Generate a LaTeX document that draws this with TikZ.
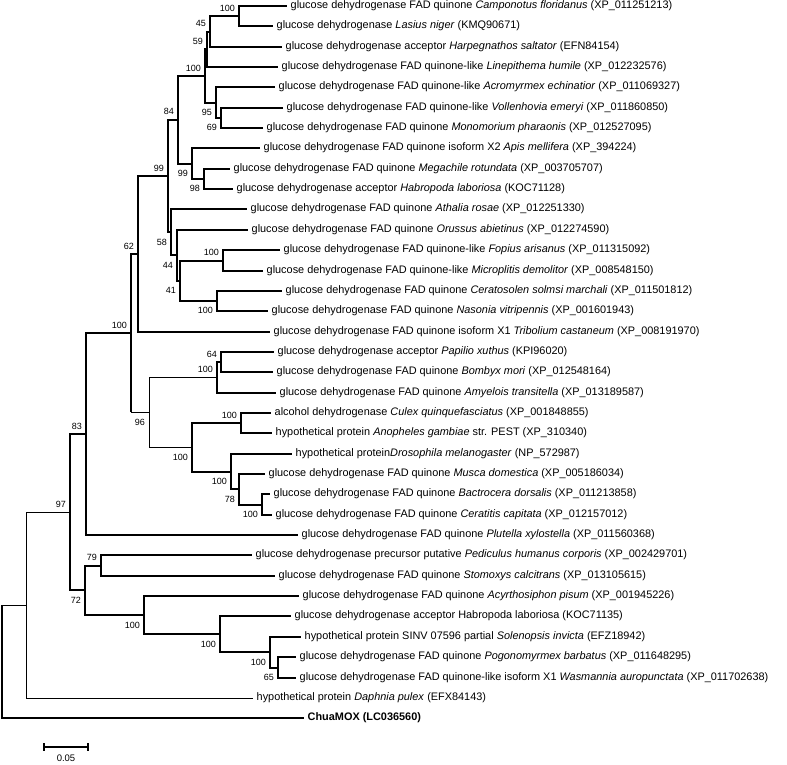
\documentclass[tikz,border=0pt]{standalone}
\usepackage{fontspec}
\setmainfont{Liberation Sans}
\usetikzlibrary{calc}
\begin{document}
\begin{tikzpicture}[x=1pt,y=-1pt,
  br/.style={line width=2pt},
  thinbr/.style={line width=1pt},
  leaf/.style={anchor=west,inner xsep=3.5pt,inner ysep=0pt,text height=7.8pt,text depth=2.2pt,font=\fontsize{10.9}{12}\selectfont},
  bsa/.style={anchor=south east,inner sep=0pt,font=\fontsize{9}{10}\selectfont},
  bsb/.style={anchor=north east,inner sep=0pt,font=\fontsize{9}{10}\selectfont},
  sbar/.style={line width=1.5pt}]
\useasboundingbox (0,0) rectangle (787,764);
% leaves
\node[leaf] (l1) at (287,6) {glucose dehydrogenase FAD quinone \textit{Camponotus floridanus} (XP\_011251213)};
\node[leaf] (l2) at (273,26) {glucose dehydrogenase \textit{Lasius niger} (KMQ90671)};
\node[leaf] (l3) at (282,47) {glucose dehydrogenase acceptor \textit{Harpegnathos saltator} (EFN84154)};
\node[leaf] (l4) at (278,67) {glucose dehydrogenase FAD quinone-like \textit{Linepithema humile} (XP\_012232576)};
\node[leaf] (l5) at (275,87) {glucose dehydrogenase FAD quinone-like \textit{Acromyrmex echinatior} (XP\_011069327)};
\node[leaf] (l6) at (283,108) {glucose dehydrogenase FAD quinone-like \textit{Vollenhovia emeryi} (XP\_011860850)};
\node[leaf] (l7) at (263,128) {glucose dehydrogenase FAD quinone \textit{Monomorium pharaonis} (XP\_012527095)};
\node[leaf] (l8) at (260,148) {glucose dehydrogenase FAD quinone isoform X2 \textit{Apis mellifera} (XP\_394224)};
\node[leaf] (l9) at (230,169) {glucose dehydrogenase FAD quinone \textit{Megachile rotundata} (XP\_003705707)};
\node[leaf] (l10) at (233,189) {glucose dehydrogenase acceptor \textit{Habropoda laboriosa} (KOC71128)};
\node[leaf] (l11) at (247,209) {glucose dehydrogenase FAD quinone \textit{Athalia rosae} (XP\_012251330)};
\node[leaf] (l12) at (248,230) {glucose dehydrogenase FAD quinone \textit{Orussus abietinus} (XP\_012274590)};
\node[leaf] (l13) at (280,250) {glucose dehydrogenase FAD quinone-like \textit{Fopius arisanus} (XP\_011315092)};
\node[leaf] (l14) at (263,271) {glucose dehydrogenase FAD quinone-like \textit{Microplitis demolitor} (XP\_008548150)};
\node[leaf] (l15) at (282,291) {glucose dehydrogenase FAD quinone \textit{Ceratosolen solmsi marchali} (XP\_011501812)};
\node[leaf] (l16) at (268,311) {glucose dehydrogenase FAD quinone \textit{Nasonia vitripennis} (XP\_001601943)};
\node[leaf] (l17) at (270,332) {glucose dehydrogenase FAD quinone isoform X1 \textit{Tribolium castaneum} (XP\_008191970)};
\node[leaf] (l18) at (274,352) {glucose dehydrogenase acceptor \textit{Papilio xuthus} (KPI96020)};
\node[leaf] (l19) at (273,372) {glucose dehydrogenase FAD quinone \textit{Bombyx mori} (XP\_012548164)};
\node[leaf] (l20) at (276,393) {glucose dehydrogenase FAD quinone \textit{Amyelois transitella} (XP\_013189587)};
\node[leaf] (l21) at (271,413) {alcohol dehydrogenase \textit{Culex quinquefasciatus} (XP\_001848855)};
\node[leaf] (l22) at (272,433) {hypothetical protein \textit{Anopheles gambiae} str. PEST (XP\_310340)};
\node[leaf] (l23) at (292,454) {hypothetical protein\textit{Drosophila melanogaster} (NP\_572987)};
\node[leaf] (l24) at (265,474) {glucose dehydrogenase FAD quinone \textit{Musca domestica} (XP\_005186034)};
\node[leaf] (l25) at (270,494) {glucose dehydrogenase FAD quinone \textit{Bactrocera dorsalis} (XP\_011213858)};
\node[leaf] (l26) at (272,515) {glucose dehydrogenase FAD quinone \textit{Ceratitis capitata} (XP\_012157012)};
\node[leaf] (l27) at (298,535) {glucose dehydrogenase FAD quinone \textit{Plutella xylostella} (XP\_011560368)};
\node[leaf] (l28) at (252,555) {glucose dehydrogenase precursor putative \textit{Pediculus humanus corporis} (XP\_002429701)};
\node[leaf] (l29) at (275,576) {glucose dehydrogenase FAD quinone \textit{Stomoxys calcitrans} (XP\_013105615)};
\node[leaf] (l30) at (299,596) {glucose dehydrogenase FAD quinone \textit{Acyrthosiphon pisum} (XP\_001945226)};
\node[leaf] (l31) at (291,616) {glucose dehydrogenase acceptor Habropoda laboriosa (KOC71135)};
\node[leaf] (l32) at (301,637) {hypothetical protein SINV 07596 partial \textit{Solenopsis invicta} (EFZ18942)};
\node[leaf] (l33) at (296,657) {glucose dehydrogenase FAD quinone \textit{Pogonomyrmex barbatus} (XP\_011648295)};
\node[leaf] (l34) at (296,678) {glucose dehydrogenase FAD quinone-like isoform X1 \textit{Wasmannia auropunctata} (XP\_011702638)};
\node[leaf] (l35) at (253,698) {hypothetical protein \textit{Daphnia pulex} (EFX84143)};
\node[leaf,font=\fontsize{10.9}{12}\selectfont\bfseries] (l36) at (304,718) {ChuaMOX (LC036560)};
% internal nodes
\coordinate (nA) at (239,16);
\coordinate (n45) at (210,31.5);
\coordinate (n59) at (207,49.25);
\coordinate (n69) at (221,118);
\coordinate (n95) at (216,102.5);
\coordinate (nAnts) at (205,75.9);
\coordinate (n98) at (204,179);
\coordinate (n99b) at (192,163.5);
\coordinate (n84) at (178,119.7);
\coordinate (nFM) at (223,260.5);
\coordinate (nCN) at (217,301);
\coordinate (n41) at (180,280.75);
\coordinate (n44) at (177,255.4);
\coordinate (n58) at (171,232.2);
\coordinate (n99a) at (168,176);
\coordinate (n62) at (138,254);
\coordinate (n64) at (221,362);
\coordinate (nPap) at (217,377.5);
\coordinate (nCA) at (241,423);
\coordinate (nBC) at (262,504.5);
\coordinate (n78) at (239,489.25);
\coordinate (nDro) at (231,471.6);
\coordinate (nDip) at (192,447.3);
\coordinate (n96) at (149,412.4);
\coordinate (nBig) at (131,333.2);
\coordinate (n83) at (86,434.1);
\coordinate (n79) at (101,565.5);
\coordinate (n65) at (278,667.5);
\coordinate (nSol) at (270,652.25);
\coordinate (nHab) at (220,634.1);
\coordinate (nAcy) at (144,615.05);
\coordinate (n72) at (85,590.3);
\coordinate (n97) at (70,512.2);
\coordinate (nD) at (26,605.1);
\coordinate (root) at (2,661.5);
% branches
\draw[br] (nA) |- (l1.west); \draw[br] (nA) |- (l2.west);
\draw[br] (n45) |- (nA); \draw[br] (n45) |- (l3.west);
\draw[br] (n59) |- (n45); \draw[br] (n59) |- (l4.west);
\draw[br] (n69) |- (l6.west); \draw[br] (n69) |- (l7.west);
\draw[br] (n95) |- (l5.west); \draw[br] (n95) |- (n69);
\draw[br] (nAnts) |- (n59); \draw[br] (nAnts) |- (n95);
\draw[br] (n98) |- (l9.west); \draw[br] (n98) |- (l10.west);
\draw[br] (n99b) |- (l8.west); \draw[br] (n99b) |- (n98);
\draw[br] (n84) |- (nAnts); \draw[br] (n84) |- (n99b);
\draw[br] (nFM) |- (l13.west); \draw[br] (nFM) |- (l14.west);
\draw[br] (nCN) |- (l15.west); \draw[br] (nCN) |- (l16.west);
\draw[br] (n41) |- (nFM); \draw[br] (n41) |- (nCN);
\draw[br] (n44) |- (l12.west); \draw[br] (n44) |- (n41);
\draw[br] (n58) |- (l11.west); \draw[br] (n58) |- (n44);
\draw[br] (n99a) |- (n84); \draw[br] (n99a) |- (n58);
\draw[br] (n62) |- (n99a); \draw[br] (n62) |- (l17.west);
\draw[br] (n64) |- (l18.west); \draw[br] (n64) |- (l19.west);
\draw[br] (nPap) |- (n64); \draw[br] (nPap) |- (l20.west);
\draw[br] (nCA) |- (l21.west); \draw[br] (nCA) |- (l22.west);
\draw[br] (nBC) |- (l25.west); \draw[br] (nBC) |- (l26.west);
\draw[br] (n78) |- (l24.west); \draw[br] (n78) |- (nBC);
\draw[br] (nDro) |- (l23.west); \draw[br] (nDro) |- (n78);
\draw[br] (nDip) |- (nCA); \draw[br] (nDip) |- (nDro);
\draw[thinbr] (n96) |- (nPap); \draw[thinbr] (n96) |- (nDip);
\draw[br] (nBig) |- (n62);
\draw[br] (nBig) -- (nBig |- n96);
\draw[thinbr] (nBig |- n96) -- (n96);
\draw[br] (n83) |- (nBig); \draw[br] (n83) |- (l27.west);
\draw[br] (n79) |- (l28.west); \draw[br] (n79) |- (l29.west);
\draw[br] (n65) |- (l33.west); \draw[br] (n65) |- (l34.west);
\draw[br] (nSol) |- (l32.west); \draw[br] (nSol) |- (n65);
\draw[br] (nHab) |- (l31.west); \draw[br] (nHab) |- (nSol);
\draw[br] (nAcy) |- (l30.west); \draw[br] (nAcy) |- (nHab);
\draw[br] (n72) |- (n79); \draw[br] (n72) |- (nAcy);
\draw[br] (n97) |- (n83); \draw[br] (n97) |- (n72);
\draw[thinbr] (nD) |- (n97); \draw[thinbr] (nD) |- (l35.west);
\draw[br] (root) -- (root |- nD);
\draw[thinbr] (root |- nD) -- (nD);
\draw[br] (root) |- (l36.west);
% bootstrap values
\node[bsa] (b1) at ($(nA)+(-4,-4.5)$) {100};
\node[bsa] (b2) at ($(n45)+(-4,-4.5)$) {45};
\node[bsa] (b3) at ($(n59)+(-4,-4.5)$) {59};
\node[bsa] (b4) at ($(nAnts)+(-4,-4.5)$) {100};
\node[bsb] (b5) at ($(n95)+(-4,6.5)$) {95};
\node[bsb] (b6) at ($(n69)+(-4,6.5)$) {69};
\node[bsa] (b7) at ($(n84)+(-4,-4.5)$) {84};
\node[bsb] (b8) at ($(n99b)+(-4,6.5)$) {99};
\node[bsb] (b9) at ($(n98)+(-4,6.5)$) {98};
\node[bsa] (b10) at ($(n99a)+(-4,-4.5)$) {99};
\node[bsb] (b11) at ($(n58)+(-4,6.5)$) {58};
\node[bsb] (b12) at ($(n44)+(-4,6.5)$) {44};
\node[bsa] (b13) at ($(nFM)+(-4,-4.5)$) {100};
\node[bsb] (b14) at ($(n41)+(-4,6.5)$) {41};
\node[bsb] (b15) at ($(nCN)+(-4,6.5)$) {100};
\node[bsa] (b16) at ($(n62)+(-4,-4.5)$) {62};
\node[bsa] (b17) at ($(nBig)+(-4,-4.5)$) {100};
\node[bsa] (b18) at ($(n64)+(-4,-4.5)$) {64};
\node[bsa] (b19) at ($(nPap)+(-4,-4.5)$) {100};
\node[bsb] (b20) at ($(n96)+(-4,6.5)$) {96};
\node[bsa] (b21) at ($(nCA)+(-4,-4.5)$) {100};
\node[bsb] (b22) at ($(nDip)+(-4,6.5)$) {100};
\node[bsb] (b23) at ($(nDro)+(-4,6.5)$) {100};
\node[bsb] (b24) at ($(n78)+(-4,6.5)$) {78};
\node[bsb] (b25) at ($(nBC)+(-4,6.5)$) {100};
\node[bsa] (b26) at ($(n83)+(-4,-4.5)$) {83};
\node[bsa] (b27) at ($(n97)+(-4,-4.5)$) {97};
\node[bsa] (b28) at ($(n79)+(-4,-4.5)$) {79};
\node[bsb] (b29) at ($(n72)+(-4,6.5)$) {72};
\node[bsb] (b30) at ($(nAcy)+(-4,6.5)$) {100};
\node[bsb] (b31) at ($(nHab)+(-4,6.5)$) {100};
\node[bsb] (b32) at ($(nSol)+(-4,6.5)$) {100};
\node[bsb] (b33) at ($(n65)+(-4,6.5)$) {65};
% scale bar
\coordinate (s0) at (44,747);
\coordinate (s1) at (88,747);
\draw[sbar] (s0) -- (s1);
\draw[sbar] ($(s0)+(0,-4)$) -- ($(s0)+(0,4)$);
\draw[sbar] ($(s1)+(0,-4)$) -- ($(s1)+(0,4)$);
\node[font=\fontsize{9.5}{11}\selectfont,inner sep=0pt] (sl) at (66,758) {0.05};
\end{tikzpicture}
\end{document}
